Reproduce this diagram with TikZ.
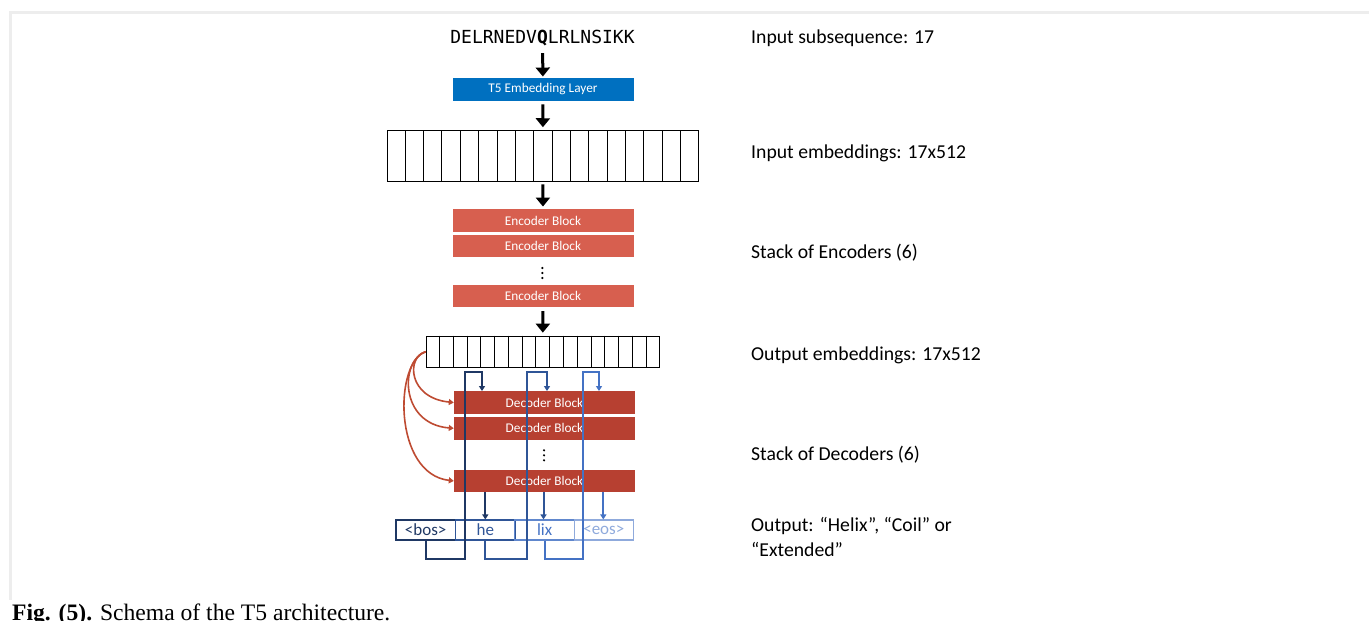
\documentclass[tikz,border=0pt]{standalone}
\usepackage{fontspec}
\setmainfont{Carlito}
\newfontfamily\monof{DejaVu Sans Mono}
\newfontfamily\capf{Liberation Serif}
\usetikzlibrary{arrows.meta,calc}
\definecolor{embblue}{RGB}{0,112,192}
\definecolor{encred}{RGB}{215,95,79}
\definecolor{decred}{RGB}{183,64,49}
\definecolor{curvered}{RGB}{190,75,50}
\definecolor{bA}{RGB}{31,56,100}
\definecolor{bB}{RGB}{47,85,151}
\definecolor{bC}{RGB}{68,114,196}
\definecolor{bD}{RGB}{143,170,220}
\begin{document}
\begin{tikzpicture}[x=1pt,y=-1pt,
  bigarrow/.style={line width=3pt,-{Triangle[width=14pt,length=9pt]}},
  block/.style={minimum width=181pt,minimum height=22.5pt,inner sep=0pt,text=white,font=\fontsize{13.3}{15}\selectfont},
  encblock/.style={block,fill=encred},
  decblock/.style={block,fill=decred},
  embbox/.style={draw=black,line width=1.1pt,inner sep=0pt},
  redarr/.style={draw=curvered,line width=1.6pt,-{Triangle[width=6pt,length=5pt]}},
  loopline/.style={line width=2pt,-{Triangle[width=6pt,length=5pt]}},
  outbox/.style={draw,line width=1.1pt,minimum width=59.5pt,minimum height=20pt,inner sep=0pt,font=\fontsize{17}{19}\selectfont},
  rlabel/.style={anchor=base west,inner sep=0pt,font=\fontsize{19.7}{24}\selectfont,align=left}]
\useasboundingbox (0,0) rectangle (1369,621);
% faint frame
\draw[black!7,line width=3pt] (10,600) -- (10,12) -- (1369,12);

% sequence
\node[anchor=base,inner sep=0pt,font=\monof\fontsize{18}{20}\selectfont] (seq) at (542.5,43.5) {DELRNEDV\textbf{Q}LRLNSIKK};
\node[fill=embblue,block] (embl) at (543,89.5) {T5 Embedding Layer};
\node[embbox,minimum width=311pt,minimum height=51pt] (inemb) at (542.8,156.3) {};
\foreach \i in {1,...,16}
  \draw[line width=0.8pt] ($(inemb.north west)!\i/17!(inemb.north east)$) -- ($(inemb.south west)!\i/17!(inemb.south east)$);

\node[encblock] (enc1) at (543,220.5) {Encoder Block};
\node[encblock] (enc2) at (543,246.2) {Encoder Block};
\node[inner sep=0pt,minimum size=4pt] (encdots) at (542.3,273) {};
\foreach \d in {-5,0,5} \fill (542.3,273+\d) circle (1.2);
\node[encblock] (enc3) at (543,296.2) {Encoder Block};

\node[embbox,minimum width=233pt,minimum height=31pt] (outemb) at (542.7,351.7) {};
\foreach \i in {1,...,16}
  \draw[line width=0.8pt] ($(outemb.north west)!\i/17!(outemb.north east)$) -- ($(outemb.south west)!\i/17!(outemb.south east)$);

% main arrows
\draw[bigarrow,shorten <=7pt,shorten >=1.5pt] (seq) -- (embl);
\draw[bigarrow,shorten <=3.5pt,shorten >=3pt] (embl) -- (inemb);
\draw[bigarrow,shorten <=2pt,shorten >=2.5pt] (inemb) -- (enc1);
\draw[bigarrow,shorten <=3.5pt,shorten >=3pt] (enc3) -- (outemb);

% decoders
\node[decblock] (dec1) at (544.5,402.5) {Decoder Block};
\node[decblock] (dec2) at (544.5,428.3) {Decoder Block};
\node[inner sep=0pt,minimum size=4pt] (decdots) at (544,455.3) {};
\foreach \d in {-5,0,5} \fill (544,455.3+\d) circle (1.2);
\node[decblock] (dec3) at (544.5,480.9) {Decoder Block};

% cross-attention curves
\draw[redarr] (outemb.west) .. controls (406,357) and (408,398) .. (dec1.west);
\draw[redarr] (outemb.west) .. controls (400,360) and (399,424) .. (dec2.west);
\draw[redarr] (outemb.west) .. controls (394,362) and (393,474) .. (dec3.west);

% output tokens
\node[outbox,draw=bA,text=bA] (bos) at (425.7,530) {<bos>};
\node[outbox,draw=bB,text=bB] (he) at (485.3,530) {he};
\node[outbox,draw=bC!85!white,text=bC] (lix) at (544.6,530) {lix};
\node[outbox,draw=bD,text=bD] (eos) at (603.8,530) {<eos>};

% decoder -> token arrows
\draw[loopline,draw=bA] (485.3,0 |- dec3.south) -- (485.3,0 |- he.north);
\draw[loopline,draw=bB] (543.5,0 |- dec3.south) -- (543.5,0 |- lix.north);
\draw[loopline,draw=bC] (603.3,0 |- dec3.south) -- (603.3,0 |- eos.north);

% autoregressive feedback loops
\draw[loopline,draw=bA] (bos.south) -- (bos.south |- 0,559) -- (465,559) -- (465,372) -- (482,372) -- (482,0 |- dec1.north);
\draw[loopline,draw=bB] (he.south) -- (he.south |- 0,559) -- (527,559) -- (527,372) -- (547,372) -- (547,0 |- dec1.north);
\draw[loopline,draw=bC] (lix.south) -- (lix.south |- 0,559) -- (583,559) -- (583,372) -- (599,372) -- (599,0 |- dec1.north);

% right labels
\node[rlabel] (l1) at (751,43.3) {Input subsequence: 17};
\node[rlabel] (l2) at (751,158.7) {Input embeddings: 17x512};
\node[rlabel] (l3) at (751,258) {Stack of Encoders (6)};
\node[rlabel] (l4) at (751,360.7) {Output embeddings: 17x512};
\node[rlabel] (l5) at (751,460.7) {Stack of Decoders (6)};
\node[rlabel] (l6) at (751,531.7) {Output: “Helix”, “Coil” or};
\node[rlabel] (l7) at (751,556) {“Extended”};

% caption
\node[anchor=base west,inner sep=0pt,font=\capf\fontsize{23.6}{26}\selectfont] (cap) at (12,620.5) {\textbf{Fig. (5).} Schema of the T5 architecture.};
\end{tikzpicture}
\end{document}
